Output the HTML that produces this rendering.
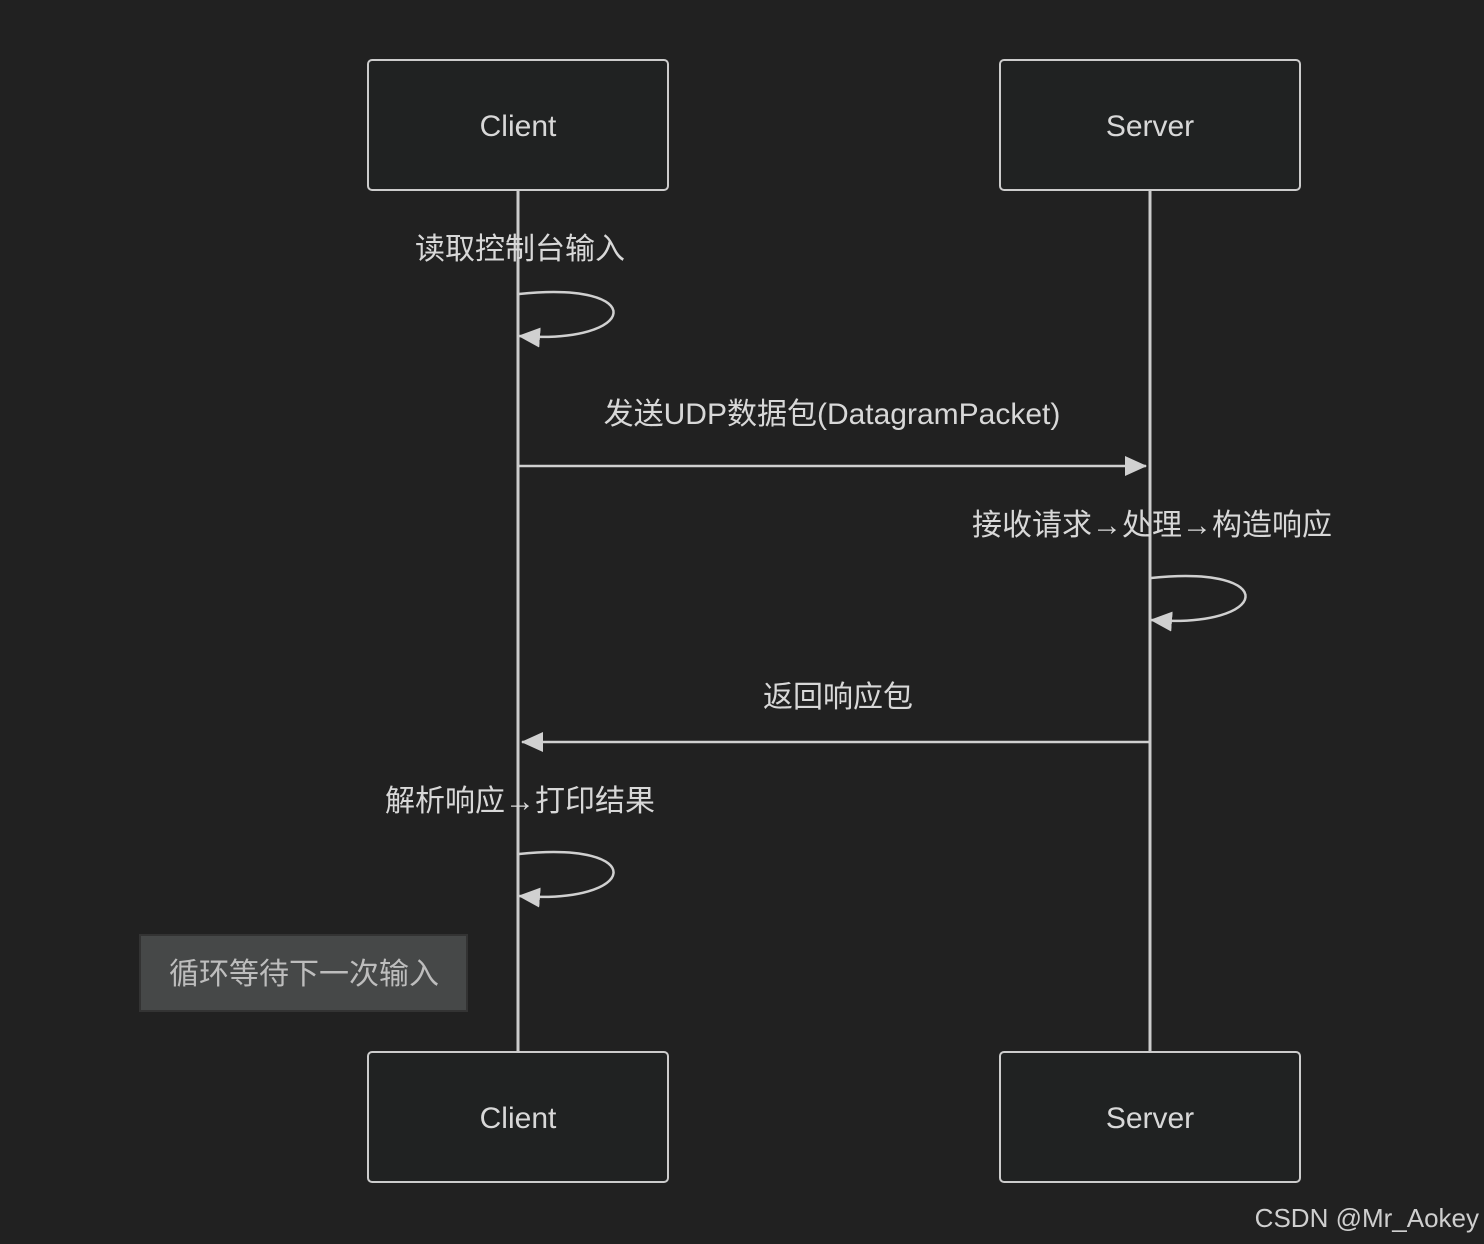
<!DOCTYPE html>
<html><head><meta charset="utf-8"><style>
html,body{margin:0;padding:0;background:#212121;}
svg{display:block}
text{font-family:"Liberation Sans","Noto Sans CJK SC",sans-serif;fill:#d8d8d8;}
</style></head><body>
<svg width="1484" height="1244" viewBox="0 0 1484 1244" xmlns="http://www.w3.org/2000/svg">
<rect width="1484" height="1244" fill="#212121"/>
<defs><marker id="a" markerWidth="12" markerHeight="12" refX="11" refY="6" orient="auto" markerUnits="userSpaceOnUse" viewBox="0 0 12 12"><path d="M0,0 L12,6 L0,12 z" fill="#d0d0d0"/></marker>
<marker id="b" markerWidth="22" markerHeight="20" refX="21" refY="10" orient="auto" markerUnits="userSpaceOnUse" viewBox="0 0 22 20"><path d="M0,0 L22,10 L0,20 z" fill="#d0d0d0"/></marker></defs>
<line x1="518" y1="190" x2="518" y2="1052" stroke="#cccccc" stroke-width="3"/>
<line x1="1150" y1="190" x2="1150" y2="1052" stroke="#cccccc" stroke-width="3"/>
<g stroke="#cccccc" stroke-width="2" fill="#202222">
<rect x="368" y="60" width="300" height="130" rx="4"/>
<rect x="1000" y="60" width="300" height="130" rx="4"/>
<rect x="368" y="1052" width="300" height="130" rx="4"/>
<rect x="1000" y="1052" width="300" height="130" rx="4"/>
</g>
<g font-size="30" text-anchor="middle">
<text x="518" y="136">Client</text>
<text x="1150" y="136">Server</text>
<text x="518" y="1128">Client</text>
<text x="1150" y="1128">Server</text>
</g>
<g font-size="30" text-anchor="middle">
<text x="520" y="259">读取控制台输入</text>
<text x="832" y="424">发送UDP数据包(DatagramPacket)</text>
<text x="1152" y="535">接收请求→处理→构造响应</text>
<text x="838" y="707">返回响应包</text>
<text x="520" y="811">解析响应→打印结果</text>
</g>
<g fill="none" stroke="#d0d0d0" stroke-width="2.5">
<path d="M519,294 C650,280 640,345 519,336" marker-end="url(#b)"/>
<path d="M1151,578 C1282,564 1272,629 1151,620" marker-end="url(#b)"/>
<path d="M519,854 C650,840 640,905 519,896" marker-end="url(#b)"/>
<line x1="519" y1="466" x2="1146" y2="466" marker-end="url(#b)"/>
<line x1="1149" y1="742" x2="522" y2="742" marker-end="url(#b)"/>
</g>
<rect x="140" y="935" width="327" height="76" fill="#464848" stroke="#333" stroke-width="2"/>
<text x="304" y="984" font-size="30" text-anchor="middle" fill="#bdbdbd" style="fill:#bdbdbd">循环等待下一次输入</text>
<text x="1479" y="1227" font-size="26" text-anchor="end" style="fill:#cfcfcf">CSDN @Mr_Aokey</text>
</svg>
</body></html>
